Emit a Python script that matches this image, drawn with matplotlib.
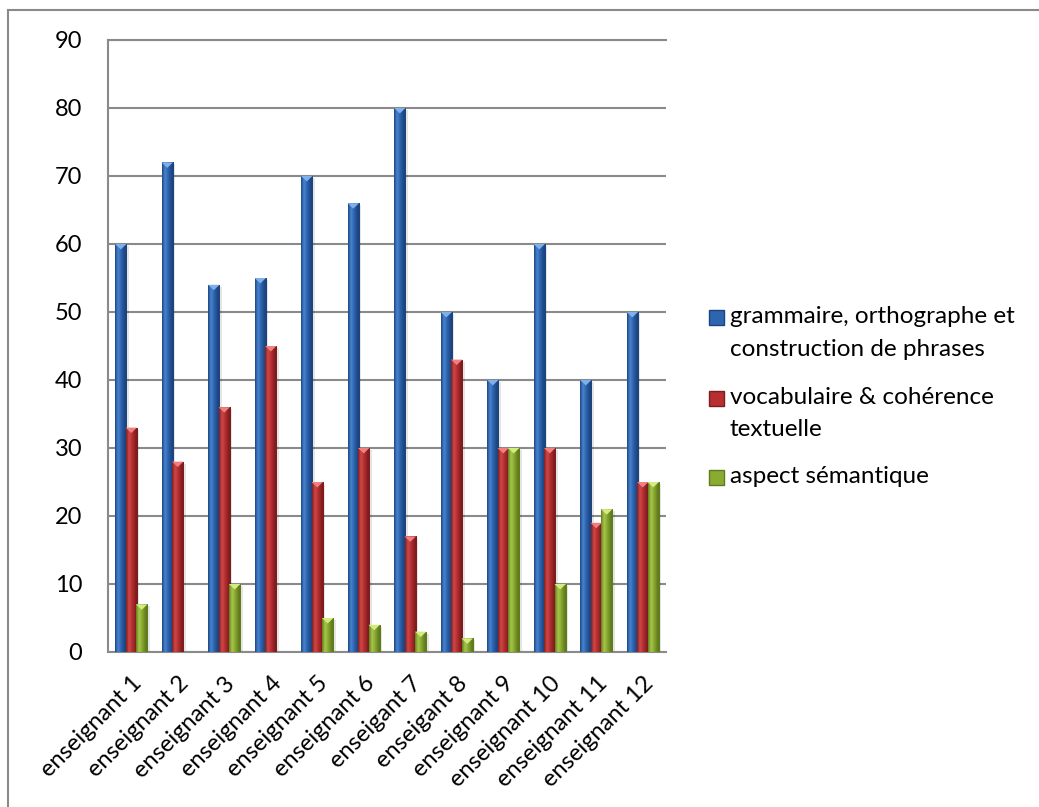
import numpy as np
import matplotlib
matplotlib.use("Agg")
import matplotlib.pyplot as plt
from matplotlib.colors import LinearSegmentedColormap
from matplotlib.patches import Polygon, Rectangle
from matplotlib.lines import Line2D

plt.rcParams['font.family'] = ['Lato', 'DejaVu Sans']

categories = ["enseignant 1", "enseignant 2", "enseignant 3", "enseignant 4",
              "enseignant 5", "enseignant 6", "enseigant 7", "enseigant 8",
              "enseignant 9", "enseignant 10", "enseignant 11", "enseignant 12"]
grammaire = [60, 72, 54, 55, 70, 66, 80, 50, 40, 60, 40, 50]
vocabulaire = [33, 28, 36, 45, 25, 30, 17, 43, 30, 30, 19, 25]
semantique = [7, 0, 10, 0, 5, 4, 3, 2, 30, 10, 21, 25]
series_names = [["grammaire, orthographe et", "construction de phrases"],
                ["vocabulaire & cohérence", "textuelle"],
                ["aspect sémantique"]]
yticks = list(range(0, 91, 10))

# (dark edge, body, highlight, top bevel)
palettes = [
    ("#1c447f", "#2e65b0", "#4a86d2", "#7fb0ea"),
    ("#7e1d1e", "#b72f31", "#d24a4a", "#f08080"),
    ("#5f7b1c", "#8aab32", "#a8c84c", "#d3ec80"),
]

W, H = 1039, 807
fig = plt.figure(figsize=(W / 100, H / 100), dpi=100)
ax = fig.add_axes([108 / W, (H - 652) / H, 558 / W, 612 / H])

# outer chart frame (top and left edges visible)
fig.add_artist(Line2D([8 / W, 8 / W], [0, 1 - 10 / H], transform=fig.transFigure,
                      color="#8a8a8a", lw=1.5))
fig.add_artist(Line2D([8 / W, 1], [1 - 10 / H, 1 - 10 / H], transform=fig.transFigure,
                      color="#8a8a8a", lw=1.5))

x = np.arange(len(categories))
width = 0.245
offsets = [-0.225, 0.0, 0.225]
values = [grammaire, vocabulaire, semantique]

for s, (vals, off, pal) in enumerate(zip(values, offsets, palettes)):
    dark, body, light, top = pal
    cmap = LinearSegmentedColormap.from_list(
        f"bar{s}", [(0, dark), (0.25, light), (0.5, body), (0.85, dark), (1, dark)])
    grad = np.linspace(0, 1, 64).reshape(1, -1)
    bars = ax.bar(x + off, vals, width, color=body, zorder=3, linewidth=0)
    for b, v in zip(bars, vals):
        if v <= 0:
            continue
        x0 = b.get_x()
        w = b.get_width()
        # soft shadow on the right
        ax.add_patch(Rectangle((x0 + w, 0), 0.05, v - 0.3, color="#000000",
                               alpha=0.10, lw=0, zorder=2.5))
        im = ax.imshow(grad, cmap=cmap, extent=[x0, x0 + w, 0, v], aspect='auto',
                       zorder=3.1, interpolation='bicubic')
        im.set_clip_path(b)
        ax.add_patch(Polygon([[x0, v], [x0 + w, v], [x0 + w / 2, v - 0.8]],
                             closed=True, color=top, lw=0, zorder=3.2))

ax.set_xlim(-0.5, len(categories) - 0.5)
ax.set_ylim(0, 90)
ax.set_aspect('auto')

ax.set_yticks(yticks)
ax.set_yticklabels([str(t) for t in yticks], fontsize=17)
ax.yaxis.grid(True, color="#8a8a8a", lw=1.5, zorder=0)
ax.set_axisbelow(True)
ax.set_xticks(x)
ax.set_xticklabels(categories, rotation=45, ha="right", rotation_mode="anchor",
                   fontsize=17)
ax.tick_params(axis="both", length=0)
ax.tick_params(axis="y", pad=18.5)
ax.tick_params(axis="x", pad=15)
ax.spines["right"].set_visible(False)
for sp in ["left", "bottom", "top"]:
    ax.spines[sp].set_color("#8a8a8a")
    ax.spines[sp].set_linewidth(1.5)

# legend
square_y = [317, 398, 477]
baselines = [[323, 356], [404, 436], [483]]
sq = 15
for lines, pal, cy, bls in zip(series_names, palettes, square_y, baselines):
    dark, body, light, top = pal
    fig.add_artist(Rectangle((709 / W, 1 - (cy + sq / 2) / H), sq / W, sq / H,
                             transform=fig.transFigure, facecolor=body,
                             edgecolor=dark, lw=1))
    for line, bl in zip(lines, bls):
        fig.text(730 / W, 1 - bl / H, line, fontsize=17.5, va="baseline", ha="left")

fig.savefig("out.png", dpi=100)
